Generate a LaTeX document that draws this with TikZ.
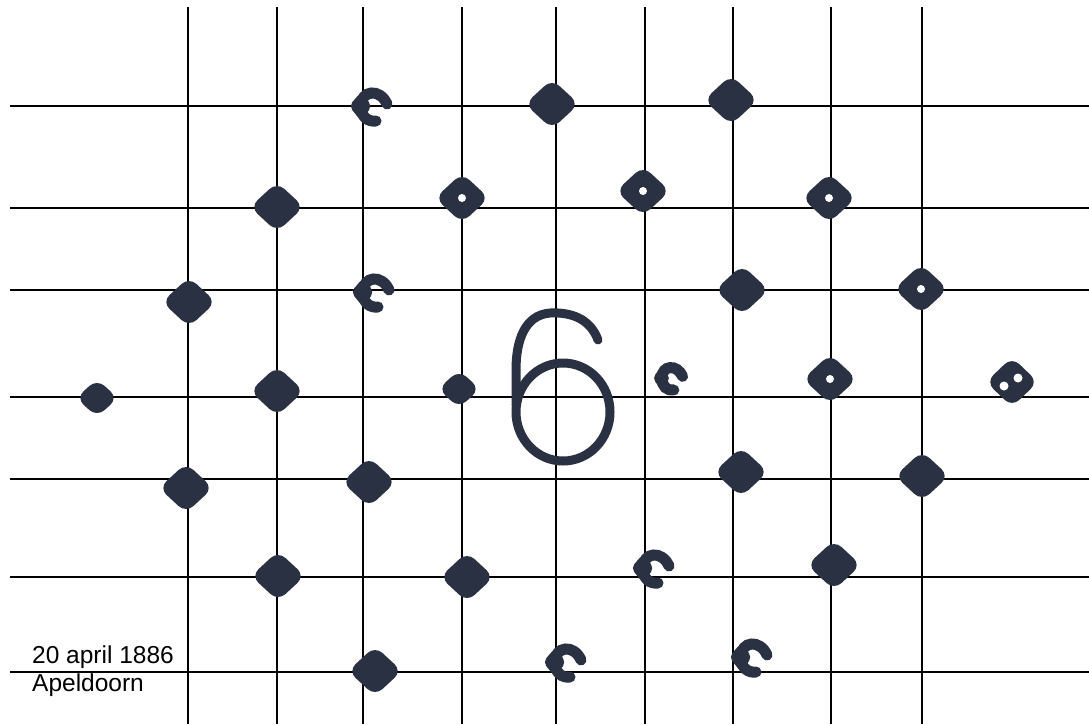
\documentclass[tikz,border=0pt]{standalone}
\usepackage{fontspec}
\setmainfont{Liberation Sans}
\usetikzlibrary{shapes.geometric}
\definecolor{tinta}{HTML}{2A3142}

\tikzset{
  gridline/.style={line width=1.7pt,black},
  dot/.style={diamond,fill=tinta,inner sep=0pt,minimum width=54pt,
              minimum height=50pt,rounded corners=10pt},
  smalldot/.style={dot,minimum width=42pt,minimum height=38pt},
  hole/.style={fill=white},
  label/.style={inner sep=0pt,anchor=base west,font=\fontsize{24.5}{29}\selectfont},
  hookmark/.pic={
    \fill[tinta,rounded corners=5pt] (-9,-14) -- (2,0) -- (-9,15) -- (-21,0) -- cycle;
    \draw[tinta,line width=11pt,line cap=round]
      (17,-2) .. controls (10,-18) and (-9,-16) .. (-9,0)
      .. controls (-9,11) and (-2,16) .. (6,15);
  }
}

\begin{document}
\begin{tikzpicture}[x=1pt,y=-1pt]
  \useasboundingbox (0,0) rectangle (1089,724);
  \fill[white] (0,0) rectangle (1089,724);

  % grid
  \foreach \gx in {188,277,363,462,556,645,733,831,922}
    \draw[gridline] (\gx,7) -- (\gx,724);
  \foreach \gy in {106,208,290,397,479,577,672}
    \draw[gridline] (10,\gy) -- (1089,\gy);

  % dots
  \node[dot] (a2) at (552,104) {};
  \node[dot] (a3) at (731,100) {};
  \node[dot] (b1) at (277,207) {};
  \node[dot] (b2) at (462,198) {};
  \node[dot] (b3) at (643,191) {};
  \node[dot] (b4) at (829,198) {};
  \node[dot] (c1) at (189,302) {};
  \node[dot] (c3) at (742,290) {};
  \node[dot] (c4) at (921,289) {};
  \node[smalldot] (d1) at (97,398) {};
  \node[dot] (d2) at (277,391) {};
  \node[smalldot] (d3) at (459,389) {};
  \node[dot] (d5) at (830,379) {};
  \node[dot,minimum width=52pt,minimum height=50pt] (d6) at (1012,382) {};
  \node[dot] (e1) at (186,488) {};
  \node[dot] (e2) at (369,482) {};
  \node[dot] (e3) at (741,472) {};
  \node[dot] (e4) at (922,476) {};
  \node[dot] (f1) at (278,576) {};
  \node[dot] (f2) at (467,577) {};
  \node[dot] (f4) at (834,565) {};
  \node[dot] (g1) at (375,671) {};

  % hooks
  \pic (a1) at (370,106) {hookmark};
  \pic (c2) at (372,292) {hookmark};
  \pic[scale=0.8] (d4) at (669,378) {hookmark};
  \pic (f3) at (652,568) {hookmark};
  \pic (g2) at (564,662) {hookmark};
  \pic (g3) at (750,657) {hookmark};

  % holes
  \foreach \n in {b2,b3,b4,c4,d5}
    \fill[hole] (\n) circle (4);
  \fill[hole] ([shift={(-8,4)}]d6.center) circle (4.5);
  \fill[hole] ([shift={(6,-4)}]d6.center) circle (4.5);

  % the six
  \draw[tinta,line width=9pt,line cap=round]
    (598,340) .. controls (590,318) and (570,312) .. (550,313)
    .. controls (525,315) and (516,340) .. (516,370) -- (516,405);
  \draw[tinta,line width=9pt] (563,412) ellipse (47 and 49);

  % text
  \node[label] (date) at (32,663) {20 april 1886};
  \node[label] (place) at (32,691) {Apeldoorn};
\end{tikzpicture}
\end{document}
